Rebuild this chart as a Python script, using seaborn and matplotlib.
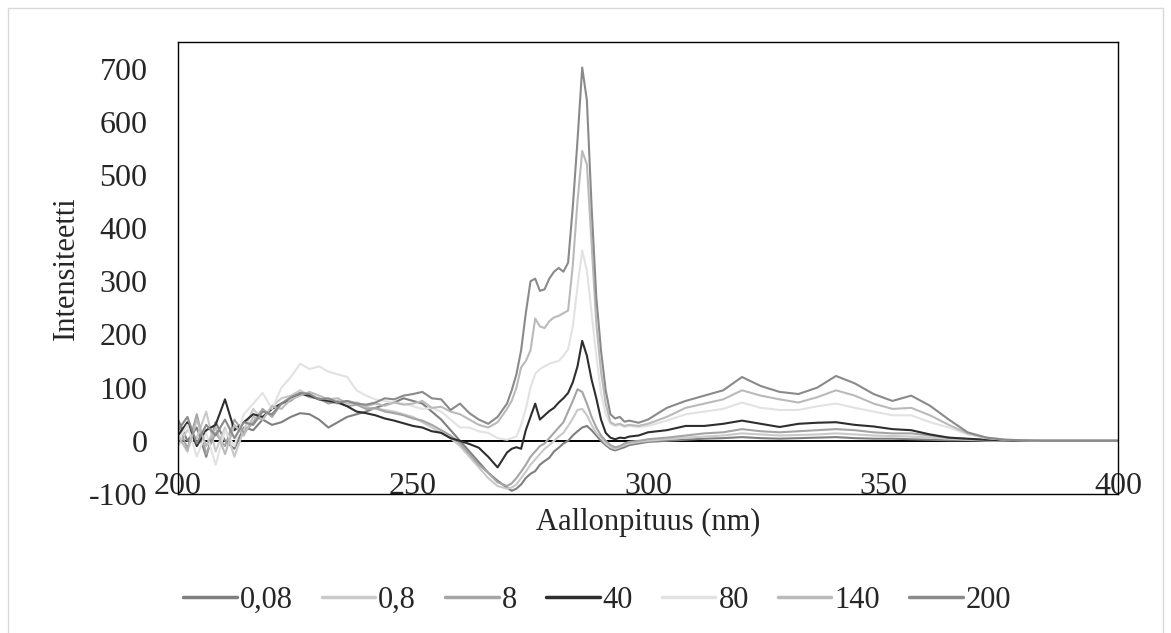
import pandas as pd
import matplotlib
matplotlib.use("Agg")
import matplotlib.pyplot as plt
import seaborn as sns

# ---------------------------------------------------------------
# Data: wavelength grid (nm) and intensities per series
# ---------------------------------------------------------------
aallonpituus = (list(range(200, 270, 2)) + list(range(270, 296))
                + [296, 298] + list(range(300, 401, 4)))

sarjat = ["0,08", "0,8", "8", "40", "80", "140", "200"]

i_0_08 = [40, 0, 25, -30, 35, 0, -15, 25, 20, 40, 30, 35, 45, 52, 50, 40, 25, 35,
          45, 50, 55, 62, 68, 72, 80, 75, 70, 55, 40, 20, 0, -20, -40, -60, -75,
          -88, -94, -90, -82, -70, -62, -57, -45, -38, -32, -20, -13, -5, 0, 10, 18,
          25, 28, 20, 10, 0, -8, -15, -18, -15, -12,
          -8, -5,
          -2, 0, 2, 4, 5, 7, 5, 4, 5, 6, 7, 5, 4, 4, 3, 2, 1, 1, 0, 0, 0, 0, 0, 0, 0, 0]

i_0_8 = [-10, 20, 5, 55, -20, 25, -30, 20, 60, 40, 65, 80, 85, 95, 85, 78, 72, 70,
         75, 70, 62, 60, 58, 55, 50, 45, 35, 25, 15, 5, -10, -30, -50, -70, -85,
         -90, -88, -82, -70, -58, -45, -35, -25, -15, -8, 0, 8, 15, 28, 42, 58,
         60, 48, 30, 15, 5, -5, -12, -15, -12, -8,
         -5, -2,
         0, 3, 6, 8, 10, 14, 12, 10, 11, 12, 14, 12, 10, 9, 8, 6, 4, 2, 1, 0, 0, 0, 0, 0, 0, 0]

i_8 = [30, -15, 50, -25, 15, -10, 40, 15, 35, 60, 45, 70, 75, 90, 82, 80, 70, 75,
       65, 68, 60, 62, 55, 52, 48, 42, 38, 30, 20, 10, -5, -25, -45, -60, -78,
       -85, -80, -70, -58, -45, -30, -20, -10, -5, 5, 15, 25, 35, 55, 75, 97,
       92, 70, 45, 25, 10, 0, -8, -12, -10, -5,
       -2, 0,
       3, 6, 10, 14, 16, 22, 18, 16, 18, 20, 22, 20, 16, 14, 14, 10, 6, 3, 1, 0, 0, 0, 0, 0, 0, 0]

i_40 = [10, 35, -10, 20, 30, 78, 20, 35, 50, 45, 60, 70, 80, 88, 85, 78, 75, 72,
        65, 55, 52, 48, 42, 38, 33, 28, 25, 18, 15, 5, 0, -6, -13, -30, -50,
        -22, -15, -12, -15, 20, 45, 70, 40, 48, 56, 62, 72, 80, 90, 110, 140,
        188, 160, 115, 80, 40, 15, 6, 3, 6, 5,
        8, 10,
        16, 20, 28, 28, 32, 38, 32, 26, 32, 34, 35, 30, 27, 22, 20, 12, 6, 4, 2, 1, 0, 0, 0, 0, 0, 0]

i_80 = [0, 30, -30, 15, -45, 20, -10, 50, 70, 90, 60, 100, 120, 145, 135, 140, 130, 125,
        120, 95, 85, 78, 75, 72, 70, 65, 60, 62, 55, 40, 25, 25, 18, 15, 5,
        2, 5, 8, 30, 60, 100, 126, 135, 140, 145, 148, 150, 160, 172, 215, 290,
        358, 320, 240, 160, 90, 50, 32, 28, 30, 26,
        28, 26,
        28, 38, 50, 55, 60, 72, 62, 58, 58, 65, 70, 62, 55, 48, 48, 35, 25, 12, 5, 2, 1, 0, 0, 0, 0, 0]

i_140 = [10, -20, 40, -10, 25, -25, 30, 10, 45, 40, 65, 60, 78, 85, 92, 85, 78, 80,
         70, 72, 65, 70, 66, 72, 68, 70, 75, 62, 64, 55, 50, 40, 30, 25, 35,
         60, 75, 100, 138, 150, 170, 230, 215, 212, 225, 232, 235, 240, 245, 330, 450,
         545, 520, 370, 220, 130, 70, 35, 30, 32, 28,
         30, 28,
         32, 45, 62, 70, 78, 95, 85, 78, 72, 82, 95, 85, 70, 60, 62, 48, 30, 14, 6, 2, 1, 0, 0, 0, 0, 0]

i_200 = [20, 45, -5, 30, 10, 40, 5, 35, 30, 55, 50, 70, 82, 90, 88, 78, 80, 72,
         75, 70, 68, 72, 80, 78, 85, 88, 92, 80, 78, 58, 70, 52, 40, 32, 45,
         70, 95, 125, 170, 240, 300, 305, 282, 285, 305, 318, 325, 318, 335, 440, 565,
         702, 640, 440, 270, 170, 95, 50, 42, 45, 36,
         38, 34,
         40, 62, 75, 85, 95, 120, 103, 92, 88, 100, 122, 108, 88, 75, 85, 66, 40, 16, 6, 2, 1, 0, 0, 0, 0, 0]

varit = ["#7f7f7f", "#c9c9c9", "#a5a5a5", "#2e2e2e", "#e2e2e2", "#bababa", "#8a8a8a"]

y_tikit = [-100, 0, 100, 200, 300, 400, 500, 600, 700]
x_tikit = [200, 250, 300, 350, 400]

# ---------------------------------------------------------------
# Long-form DataFrame
# ---------------------------------------------------------------
arvot = [i_0_08, i_0_8, i_8, i_40, i_80, i_140, i_200]
osat = []
for nimi, sarja in zip(sarjat, arvot):
    osat.append(pd.DataFrame({"aallonpituus": aallonpituus, "intensiteetti": sarja, "sarja": nimi}))
df = pd.concat(osat, ignore_index=True)

# ---------------------------------------------------------------
# Plot
# ---------------------------------------------------------------
sns.set_style("white")
plt.rcParams["font.family"] = ["Liberation Serif", "DejaVu Serif"]
plt.rcParams["axes.unicode_minus"] = False

fig = plt.figure(figsize=(11.71, 6.33), dpi=100)
ax = fig.add_axes([178 / 1171, 1 - 494 / 633, 940 / 1171, 452 / 633])

ax.axhline(0, color="black", linewidth=1.4, zorder=1.5)
sns.lineplot(data=df, x="aallonpituus", y="intensiteetti", hue="sarja",
             hue_order=sarjat, palette=varit, linewidth=1.5, ax=ax, zorder=2)

ax.set_xlim(200, 400)
ax.set_ylim(-100, 750)
ax.set_xticks(x_tikit)
ax.set_yticks(y_tikit)
ax.tick_params(axis="x", length=0, pad=-16, labelsize=23)
ax.tick_params(axis="y", length=0, pad=22, labelsize=23)
for s in ax.spines.values():
    s.set_color("black")
    s.set_linewidth(1.0)

ax.set_xlabel("Aallonpituus (nm)", fontsize=22)
ax.set_ylabel("Intensiteetti", fontsize=22)
ax.xaxis.set_label_coords(0.5, -0.03)
ax.yaxis.set_label_coords(-0.103, 0.5)

kahvat, nimet = ax.get_legend_handles_labels()
for k in kahvat:
    k.set_linewidth(2.5)
ax.legend(kahvat, nimet, loc="center", bbox_to_anchor=(0.51, 0.052),
          bbox_transform=fig.transFigure, ncol=7, frameon=False, fontsize=22,
          handlelength=1.75, handletextpad=0.1, columnspacing=0.95)

# light frame around the chart area
fig.add_artist(plt.Rectangle((8 / 1171, -0.05), 1155 / 1171, 1 - 8 / 633 + 0.05,
                             transform=fig.transFigure, fill=False,
                             edgecolor="#d9d9d9", linewidth=1.0))

fig.savefig("out.png", dpi=100)
